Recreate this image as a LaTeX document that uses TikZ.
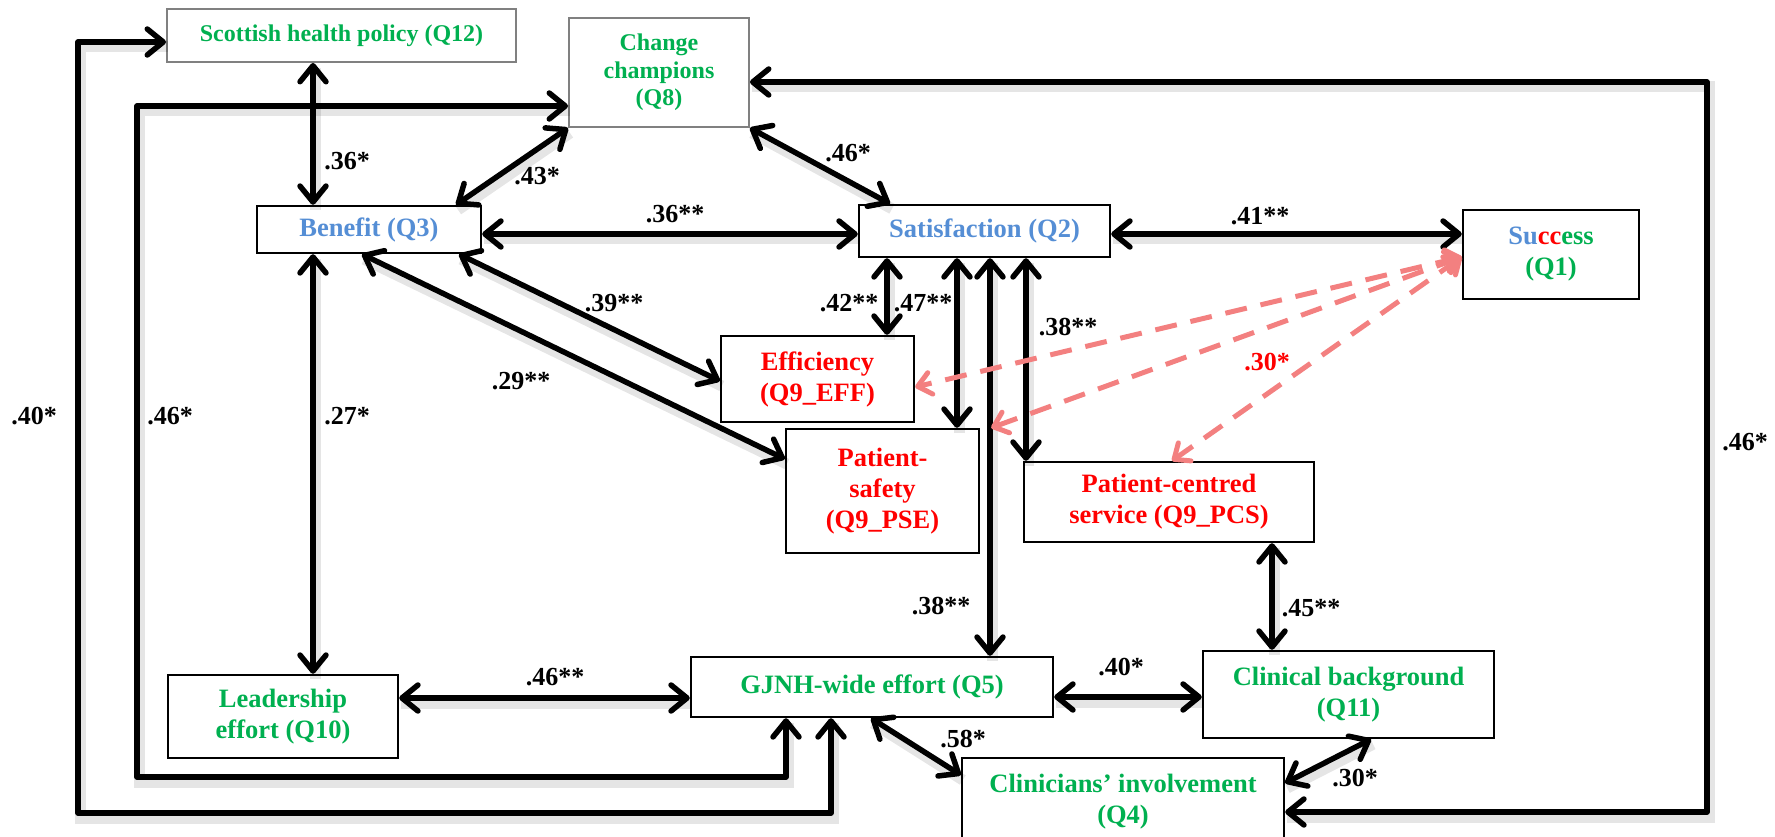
\documentclass[tikz,border=0pt]{standalone}
\usepackage{fontspec}
\setmainfont{Liberation Serif}
\usetikzlibrary{arrows.meta}
\definecolor{qgreen}{RGB}{0,176,80}
\definecolor{qblue}{RGB}{85,142,213}
\definecolor{qred}{RGB}{255,0,0}
\definecolor{dashred}{RGB}{243,128,128}
\definecolor{framegray}{RGB}{128,128,128}

\begin{document}
\begin{tikzpicture}[x=1pt,y=-1pt,
  box/.style={draw=black, line width=2.4pt, fill=white, inner sep=0pt, align=center,
    font=\fontsize{26.5}{31}\selectfont\bfseries},
  graybox/.style={box, draw=framegray, line width=2pt, font=\fontsize{24}{27.5}\selectfont\bfseries},
  lbl/.style={inner sep=0pt, font=\fontsize{26}{30}\selectfont\bfseries},
  tip/.style={Straight Barb[length=16pt,width=26pt,round]},
  conn/.style={line width=5.5pt, line cap=round, line join=round, {Straight Barb[length=16pt,width=26pt,round]}-{Straight Barb[length=16pt,width=26pt,round]},
    preaction={draw=black, opacity=0.10, line width=11pt, -, transform canvas={shift={(2pt,-5pt)}}}},
  rdash/.style={draw=dashred, line width=5pt, dash pattern=on 22pt off 14pt,
    {Straight Barb[length=13pt,width=22pt,round]}-{Straight Barb[length=13pt,width=22pt,round]}}
]
\useasboundingbox (0,0) rectangle (1775,837);

% ---- variables ----
\node[graybox, minimum width=349pt, minimum height=53pt, text=qgreen] (Q12) at (341.5,35.5) {Scottish health policy (Q12)};
\node[graybox, minimum width=180pt, minimum height=109pt, text=qgreen] (Q8) at (659,72.5) {Change\\champions\\(Q8)};
\node[box, minimum width=224pt, minimum height=47pt, text=qblue] (Q3) at (369,229.5) {Benefit (Q3)};
\node[box, minimum width=251pt, minimum height=52pt, text=qblue] (Q2) at (984.5,231) {Satisfaction (Q2)};
\node[box, minimum width=176pt, minimum height=89pt, text=qgreen] (Q1) at (1551,254.5) {\textcolor{qblue}{Su}\textcolor{qred}{cc}ess\\(Q1)};
\node[box, minimum width=193pt, minimum height=86pt, text=qred] (EFF) at (817.5,379) {Efficiency\\(Q9\_EFF)};
\node[box, minimum width=193pt, minimum height=124pt, text=qred] (PSE) at (882.5,491) {Patient-\\safety\\(Q9\_PSE)};
\node[box, minimum width=290pt, minimum height=80pt, text=qred] (PCS) at (1169,502) {Patient-centred\\service (Q9\_PCS)};
\node[box, minimum width=230pt, minimum height=83pt, text=qgreen] (Q10) at (283,716.5) {Leadership\\effort (Q10)};
\node[box, minimum width=362pt, minimum height=60pt, text=qgreen] (Q5) at (872,687) {GJNH-wide effort (Q5)};
\node[box, minimum width=291pt, minimum height=87pt, text=qgreen] (Q11) at (1348.5,694.5) {Clinical background\\(Q11)};
\node[box, minimum width=322pt, minimum height=87pt, text=qgreen] (Q4) at (1123,801.5) {Clinicians’ involvement\\(Q4)};

% ---- correlations ----
\draw[conn] (313,0 |- Q12.south) -- (313,0 |- Q3.north);
\draw[conn] (456,0 |- Q3.north) -- (Q8.south west);
\draw[conn] (Q8.south east) -- (890,0 |- Q2.north);
\draw[conn] (Q3.east |- 0,234) -- (Q2.west |- 0,234);
\draw[conn] (Q2.east |- 0,234) -- (Q1.west |- 0,234);
\draw[conn] (459,0 |- Q3.south) -- (EFF.west |- 0,381);
\draw[conn] (362,0 |- Q3.south) -- (PSE.west |- 0,459);
\draw[conn] (313,0 |- Q3.south) -- (313,0 |- Q10.north);
\draw[conn] (Q10.east |- 0,698) -- (Q5.west |- 0,698);
\draw[conn] (887,0 |- Q2.south) -- (887,0 |- EFF.north);
\draw[conn] (957,0 |- Q2.south) -- (957,0 |- PSE.north);
\draw[conn] (990,0 |- Q2.south) -- (990,0 |- Q5.north);
\draw[conn] (1026,0 |- Q2.south) -- (1026,0 |- PCS.north);
\draw[conn] (1272,0 |- PCS.south) -- (1272,0 |- Q11.north);
\draw[conn] (Q5.east |- 0,697) -- (Q11.west |- 0,697);
\draw[conn] (871,0 |- Q5.south) -- (Q4.west |- 0,775);
\draw[conn] (1371,0 |- Q11.south) -- (Q4.east |- 0,783);
\draw[conn] (Q8.east |- 0,82) -- (1707,82) -- (1707,812) -- (Q4.east |- 0,812);
\draw[conn] (831,0 |- Q5.south) -- (831,813) -- (78,813) -- (78,42) -- (Q12.west |- 0,42);
\draw[conn] (786,0 |- Q5.south) -- (786,777) -- (137,777) -- (137,106) -- (Q8.west |- 0,106);

% ---- links to success ----
\draw[rdash] (Q1.west |- 0,257) -- (EFF.east |- 0,387);
\draw[rdash] (Q1.west |- 0,257) -- ([xshift=11pt]PSE.north east);
\draw[rdash] (Q1.west |- 0,257) -- (1172,0 |- PCS.north);

% ---- coefficients ----
\node[lbl] (c1) at (347,161) {.36*};
\node[lbl] (c2) at (537,176) {.43*};
\node[lbl] (c3) at (848,153) {.46*};
\node[lbl] (c4) at (675,214) {.36**};
\node[lbl] (c5) at (1260,216) {.41**};
\node[lbl] (c6) at (614,303) {.39**};
\node[lbl] (c7) at (521,381) {.29**};
\node[lbl] (c8) at (849,303) {.42**};
\node[lbl] (c9) at (923,303) {.47**};
\node[lbl] (c10) at (1068,327) {.38**};
\node[lbl, text=qred] (c11) at (1267,362) {.30*};
\node[lbl] (c12) at (1745,442) {.46*};
\node[lbl] (c13) at (34,416) {.40*};
\node[lbl] (c14) at (170,416) {.46*};
\node[lbl] (c15) at (347,416) {.27*};
\node[lbl] (c16) at (555,677) {.46**};
\node[lbl] (c17) at (941,606) {.38**};
\node[lbl] (c18) at (1311,608) {.45**};
\node[lbl] (c19) at (1121,667) {.40*};
\node[lbl] (c20) at (963,739) {.58*};
\node[lbl] (c21) at (1355,778) {.30*};
\end{tikzpicture}
\end{document}
